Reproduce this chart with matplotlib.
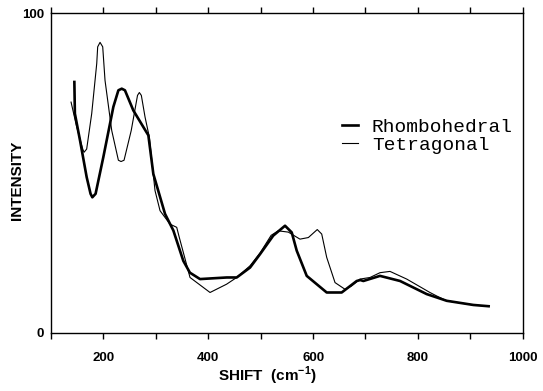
#!/usr/bin/env python
# coding: utf-8
"""
Raman spectra of the two phases, redrawn from a scanned figure.

The points below were read off the scan by eye, so they are only
as good as the reading.  Both traces share the same tail above
about 840 cm-1.
"""

import matplotlib
matplotlib.use("Agg")
import matplotlib.pyplot as plt
from matplotlib.font_manager import FontProperties
from matplotlib.ticker import MultipleLocator


RHOMB_SHIFT = [
    144.5, 145.5, 155.3, 168.0, 175.4, 178.8, 185.0, 199.8, 218.9, 228.5,
    234.9, 241.0, 257.0, 285.7, 295.2, 317.5, 333.4, 352.4, 365.0, 384.3,
    435.2, 454.3, 479.7, 498.8, 524.0, 546.5, 559.3, 568.8, 587.9, 626.0,
    654.6, 683.3, 690.0, 696.0, 727.7, 766.0, 816.8, 855.0, 905.8, 935.0,
]
RHOMB_INT = [
    78.5, 68.6, 60.2, 48.7, 43.5, 42.4, 43.5, 55.0, 70.7, 75.9,
    76.4, 75.9, 69.6, 61.8, 49.7, 37.2, 32.0, 22.5, 18.8, 16.8,
    17.3, 17.3, 20.4, 24.6, 30.4, 33.5, 31.4, 25.7, 17.8, 12.6,
    12.6, 16.2, 16.5, 16.2, 17.8, 16.2, 12.1, 10.0, 8.7, 8.3,
]

TETRA_SHIFT = [
    138.2, 149.0, 160.5, 163.0, 168.0, 177.6, 187.2, 189.0, 193.5, 198.6,
    203.0, 215.8, 228.5, 233.6, 239.3, 253.0, 265.0, 268.5, 272.3, 279.4,
    287.6, 298.4, 308.0, 327.0, 339.8, 344.8, 365.2, 403.4, 435.0, 454.3,
    480.0, 499.0, 520.0, 533.7, 552.8, 575.0, 591.0, 608.0, 616.5, 626.0,
    641.9, 661.0, 673.0, 689.6, 708.7, 727.7, 746.8, 778.7, 823.0, 836.0,
    855.0, 905.8, 935.0,
]
TETRA_INT = [
    72.2, 64.4, 57.5, 56.5, 57.5, 68.6, 84.3, 89.5, 90.9, 89.5,
    79.0, 63.3, 54.0, 53.6, 54.0, 63.3, 74.3, 75.2, 74.3, 67.5,
    61.2, 44.5, 38.2, 34.0, 33.0, 29.8, 17.3, 12.6, 15.2, 17.3,
    21.0, 25.0, 30.5, 31.9, 31.5, 29.3, 29.8, 32.3, 30.9, 23.6,
    15.7, 13.6, 14.6, 16.8, 17.3, 18.8, 19.2, 16.8, 12.6, 11.5,
    10.0, 8.7, 8.3,
]

SERIES_NAMES = ["Rhombohedral", "Tetragonal"]

TICK_FONT = dict(family="Liberation Sans", weight="bold", size=9.5)
LABEL_FONT = dict(family="Liberation Sans", weight="bold", size=11)


def style_axes(ax):
    """Put the frame and ticks the way the scanned plot has them."""
    ax.set_xlim(100, 1000)
    ax.set_ylim(0, 100)
    ax.xaxis.set_major_locator(MultipleLocator(200))
    ax.xaxis.set_minor_locator(MultipleLocator(100))
    ax.set_yticks([0, 100])
    ax.tick_params(axis="x", which="both", direction="out", length=4,
                   width=1, top=True, pad=10)
    ax.tick_params(axis="y", length=0, pad=5)
    for label in ax.get_xticklabels() + ax.get_yticklabels():
        label.set_fontproperties(FontProperties(**TICK_FONT))
    for spine in ax.spines.values():
        spine.set_linewidth(1.0)


def main():
    fig = plt.figure(figsize=(5.43, 3.91), dpi=100)
    ax = fig.add_axes([0.094, 0.149, 0.8686, 0.817])

    ax.plot(RHOMB_SHIFT, RHOMB_INT, color="black", lw=1.9,
            solid_joinstyle="round", label=SERIES_NAMES[0])
    ax.plot(TETRA_SHIFT, TETRA_INT, color="black", lw=0.8,
            solid_joinstyle="round", label=SERIES_NAMES[1])

    style_axes(ax)

    ax.set_xlabel(r"SHIFT  (cm$^{\mathregular{-1}}$)", va="center",
                  **LABEL_FONT)
    ax.xaxis.set_label_coords(0.458, -0.135)
    ax.set_ylabel("INTENSITY", **LABEL_FONT)
    ax.yaxis.set_label_coords(-0.057, 0.478)

    ax.legend(loc="center left", bbox_to_anchor=(0.616, 0.615),
              frameon=False, borderpad=0, borderaxespad=0,
              handlelength=0.86, handletextpad=0.7, labelspacing=0.0,
              prop=dict(family="Liberation Mono", size=14))

    fig.savefig("out.png", dpi=100)


if __name__ == "__main__":
    main()
